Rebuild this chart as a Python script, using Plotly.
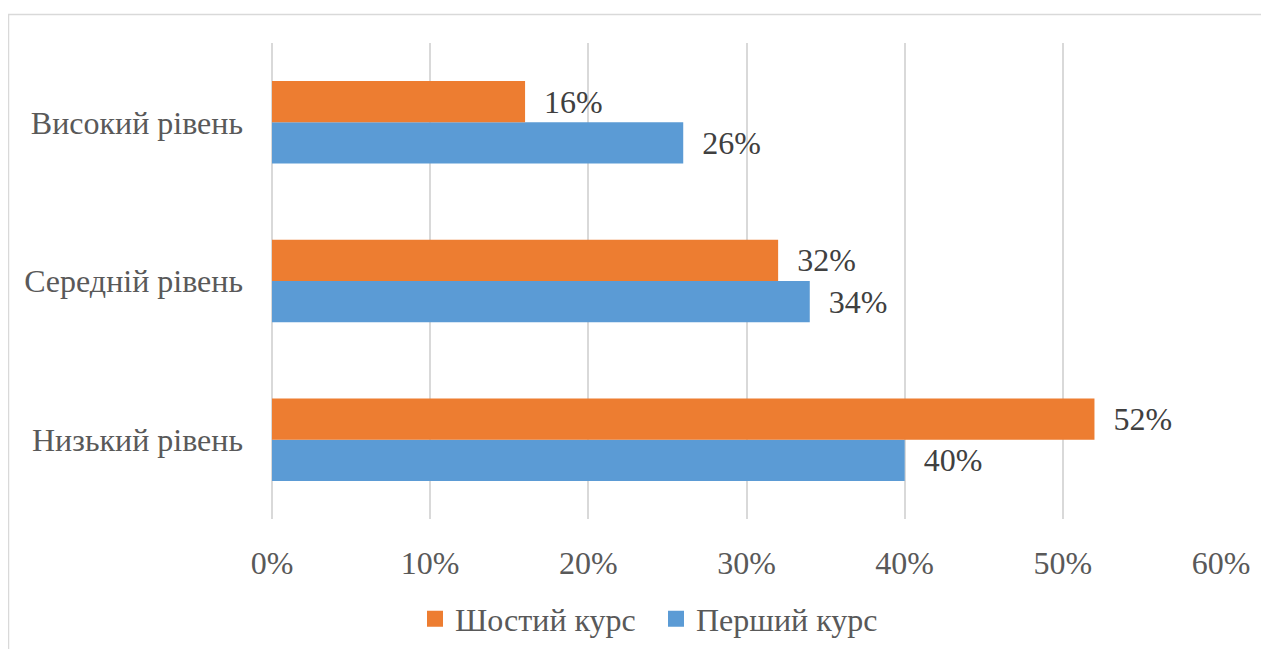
import plotly.graph_objects as go

categories = ["Низький рівень", "Середній рівень", "Високий рівень"]
first_course = [0.40, 0.34, 0.26]
sixth_course = [0.52, 0.32, 0.16]
tick_vals = [0, 0.1, 0.2, 0.3, 0.4, 0.5, 0.6]
tick_text = ["0%", "10%", "20%", "30%", "40%", "50%", "60%"]
series_names = ["Шостий курс", "Перший курс"]
series_colors = ["#ED7D31", "#5B9BD5"]

FONT = "Liberation Serif"
FS = 32

fig = go.Figure()
fig.add_trace(go.Bar(
    y=categories, x=first_course, orientation="h", name=series_names[1],
    marker=dict(color=series_colors[1], line=dict(width=0)), showlegend=False,
    text=[f"{round(v*100)}%" for v in first_course],
    texttemplate="  %{text}", textposition="outside", cliponaxis=False,
    textfont=dict(family=FONT, size=FS, color="#404040"),
))
fig.add_trace(go.Bar(
    y=categories, x=sixth_course, orientation="h", name=series_names[0],
    marker=dict(color=series_colors[0], line=dict(width=0)), showlegend=False,
    text=[f"{round(v*100)}%" for v in sixth_course],
    texttemplate="  %{text}", textposition="outside", cliponaxis=False,
    textfont=dict(family=FONT, size=FS, color="#404040"),
))
# legend entries (square markers)
for name, col in zip(series_names, series_colors):
    fig.add_trace(go.Scatter(
        x=[None], y=[None], mode="markers", name=name,
        marker=dict(symbol="square", size=16, color=col, line=dict(width=0)),
    ))

OFF = 8  # body margin of the html page
W, H = 1269 - OFF, 649 - OFF
L, T = 272 - OFF, 43 - OFF
R = W - (1221 - OFF)
B = H - (519 - OFF)
pw, ph = W - L - R, H - T - B

def px_x(p):
    return (p - OFF - L) / pw

def px_y(p):
    return (H - B - (p - OFF)) / ph

fig.add_shape(type="rect", xref="paper", yref="paper",
              x0=px_x(8.5), x1=px_x(1320), y0=px_y(700), y1=px_y(14.5),
              line=dict(color="#D9D9D9", width=1.5), fillcolor="rgba(0,0,0,0)", layer="below")

fig.update_layout(
    width=W, height=H,
    margin=dict(l=L, r=R, t=T, b=B, autoexpand=False),
    paper_bgcolor="white", plot_bgcolor="white",
    barmode="group", bargap=0.48, bargroupgap=0,
    showlegend=True,
    legend=dict(orientation="h", xref="container", yref="container",
                x=(415 - OFF) / W, xanchor="left",
                y=(649 - 619) / H, yanchor="middle",
                font=dict(family=FONT, size=FS, color="#595959"),
                itemwidth=30, entrywidth=196, entrywidthmode="pixels",
                bgcolor="rgba(0,0,0,0)"),
    font=dict(family=FONT, size=FS, color="#595959"),
    xaxis=dict(range=[0, 0.6], tickvals=tick_vals, ticktext=tick_text,
               showgrid=True, gridcolor="#D9D9D9", gridwidth=1.5,
               zeroline=True, zerolinecolor="#D9D9D9", zerolinewidth=1.5,
               showline=False, ticks="", ticklabelstandoff=22,
               tickfont=dict(family=FONT, size=FS, color="#595959")),
    yaxis=dict(categoryorder="array", categoryarray=categories,
               showgrid=False, zeroline=False, showline=False, ticks="",
               ticklabelstandoff=28,
               tickfont=dict(family=FONT, size=FS, color="#595959")),
)

fig.write_html("out.html")
